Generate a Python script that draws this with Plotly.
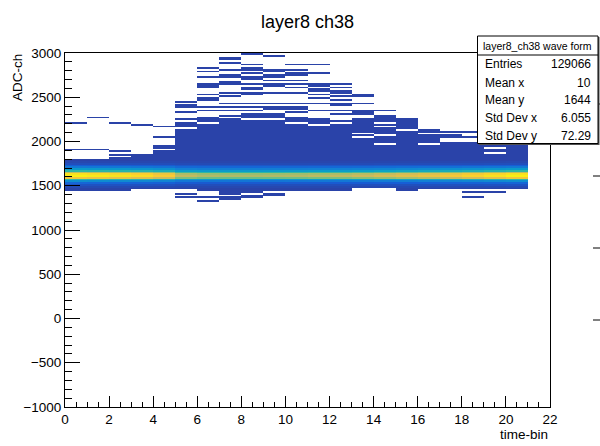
import numpy as np
import plotly.graph_objects as go

# ---------------- data ----------------
time_bins = list(range(21))                 # time-bin columns (0..20), bin width 1
adc_lo, adc_hi, adc_step = -1000, 3000, 20  # ADC binning

# relative shape of the dense core band (bin centre ADC -> fraction of column peak)
core_adc = [1770, 1750, 1730, 1710, 1690, 1670, 1650, 1630, 1610, 1590, 1570, 1550, 1530, 1510, 1490]
core_frac = [0.02, 0.05, 0.12, 0.22, 0.35, 0.5, 0.72, 0.95, 1.0, 0.85, 0.5, 0.3, 0.15, 0.07, 0.03]

# peak counts of each column
peak_counts = [2100, 2060, 2020, 1960, 1850, 1520, 1460, 1450, 1450, 1460, 1470,
               1500, 1520, 1560, 1620, 1680, 1740, 1820, 1900, 2000, 2100]

# extent of the continuous low-count region per column (top, bottom ADC)
dense_top = [1790, 1780, 1780, 1800, 1950, 2180, 2260, 2280, 2300, 2300, 2260,
             2245, 2225, 2240, 2240, 2200, 2055, 1985, 1990, 1905, 1940]
dense_bottom = [1445, 1445, 1450, 1460, 1460, 1460, 1440, 1430, 1430, 1440, 1465,
                1460, 1445, 1490, 1480, 1445, 1470, 1465, 1465, 1460, 1465]
dense_level = [4, 4, 4, 4, 4, 4, 4, 4, 4, 4, 4, 4, 4, 4, 4, 4, 4, 4, 4, 4, 4]

# empty rows inside the dense region
gaps = [
    [], [], [], [], [1900], [2150], [2200], [2270], [2255], [2240],
    [2200], [2190], [2205], [2095, 2055], [2215, 2165, 2075, 1970], [2130],
    [1960], [], [], [1860], [],
]

# isolated single-count rows
sparse = [
    [2200, 1910],
    [2260, 1905],
    [2210, 1885, 1845, 1810],
    [2185, 1855, 1825],
    [2165, 2055],
    [2440, 2400, 2380, 2330, 2245, 2205, 1415, 1375],
    [2835, 2790, 2720, 2645, 2625, 2600, 2525, 2485, 2465, 2395, 2340, 1375, 1335],
    [2940, 2920, 2885, 2805, 2745, 2725, 2665, 2645, 2545, 2510,
     2420, 2395, 2345, 1415, 1375, 1340],
    [2985, 2865, 2825, 2810, 2760, 2720, 2700, 2650, 2610, 2580,
     2540, 2520, 2430, 2390, 2340, 1380, 1360],
    [2960, 2810, 2790, 2750, 2730, 2695, 2650, 2630, 2545, 2430,
     2390, 2370, 1400, 1380],
    [2870, 2810, 2770, 2750, 2695, 2655, 2615, 2600, 2545, 2430,
     2390, 2375, 2335, 1440],
    [2870, 2775, 2640, 2620, 2580, 2560, 2520, 2490, 2430, 2350, 1450],
    [2655, 2610, 2565, 2545, 2505, 2460, 2420, 2400, 2345, 2300, 1440],
    [2535, 2515, 2430, 2350, 2330, 2300],
    [2345, 2290, 2265],
    [2245, 2225],
    [2130, 2110, 2075],
    [2110, 2060, 2040],
    [2110, 2040, 1420, 1375],
    [1940, 1430],
    [1960],
]

x_tick_vals = list(range(0, 23, 2))
y_tick_vals = list(range(-1000, 3001, 500))

stats_labels = ["Entries", "Mean x", "Mean y", "Std Dev x", "Std Dev y"]
stats_values = ["129066", "10", "1644", "6.055", "72.29"]

# ---------------- build histogram matrix ----------------
y_edges = list(range(adc_lo, adc_hi + 1, adc_step))
x_edges = list(range(0, len(time_bins) + 1))
ny = len(y_edges) - 1
z = np.full((ny, len(time_bins)), np.nan)


def idx(adc):
    return int((adc - adc_lo) // adc_step)


for k in range(len(time_bins)):
    for i in range(idx(dense_bottom[k]), idx(dense_top[k]) + 1):
        z[i, k] = dense_level[k]
    for g in gaps[k]:
        z[idx(g), k] = np.nan
    for s in sparse[k]:
        if np.isnan(z[idx(s), k]):
            z[idx(s), k] = 1
    for a, f in zip(core_adc, core_frac):
        v = peak_counts[k] * f
        i = idx(a)
        z[i, k] = v if np.isnan(z[i, k]) else max(z[i, k], v)

zlist = [[None if np.isnan(v) else float(v) for v in row] for row in z]

colorscale = [
    [0.0, "rgb(42,67,168)"],
    [0.12, "rgb(22,94,214)"],
    [0.25, "rgb(18,128,212)"],
    [0.375, "rgb(8,162,200)"],
    [0.5, "rgb(46,182,164)"],
    [0.625, "rgb(135,190,119)"],
    [0.75, "rgb(209,187,89)"],
    [0.875, "rgb(250,202,50)"],
    [1.0, "rgb(249,240,20)"],
]

fig = go.Figure(go.Heatmap(
    x=x_edges, y=y_edges, z=zlist,
    colorscale=colorscale, zmin=0, zmax=max(peak_counts),
    showscale=False, hoverinfo="skip", zsmooth=False,
))

W, H = 600, 446
L, R, T, B = 65, 550, 53, 407
FONT = "Liberation Sans, Arial, Helvetica, sans-serif"


def px(x):
    return (x - L) / (R - L)


def py(y):
    return (B - y) / (B - T)


fig.update_layout(
    width=W, height=H,
    margin=dict(l=L, r=W - R, t=T, b=H - B, pad=0),
    paper_bgcolor="white", plot_bgcolor="white",
    font=dict(family=FONT, color="black"),
    showlegend=False,
)
fig.update_xaxes(
    range=[0, 22], tickvals=x_tick_vals, ticks="inside", ticklen=11, tickcolor="black",
    tickwidth=1, showline=True, linecolor="black", linewidth=1, mirror=True,
    showgrid=False, zeroline=False, tickfont=dict(size=13.5, family=FONT),
    minor=dict(dtick=0.5, tick0=0, ticks="inside", ticklen=5.5, tickcolor="black", showgrid=False),
)
fig.update_yaxes(
    range=[-1000, 3000], tickvals=y_tick_vals, ticks="inside", ticklen=14.5, tickcolor="black",
    tickwidth=1, showline=True, linecolor="black", linewidth=1, mirror=True,
    showgrid=False, zeroline=False, tickfont=dict(size=13.5, family=FONT),
    minor=dict(dtick=100, tick0=0, ticks="inside", ticklen=7, tickcolor="black", showgrid=False),
)

shapes = []
# stray ticks at the far right
for yy in [104, 176, 248, 320]:
    shapes.append(dict(type="line", xref="paper", yref="paper", x0=px(593), x1=px(600),
                       y0=py(yy), y1=py(yy), line=dict(color="black", width=1)))
# stats box shadow + box
shapes.append(dict(type="rect", xref="paper", yref="paper", x0=px(479), x1=px(599.5),
                   y0=py(145), y1=py(37), fillcolor="rgb(80,80,80)", line=dict(width=0)))
shapes.append(dict(type="rect", xref="paper", yref="paper", x0=px(477.5), x1=px(598),
                   y0=py(143.5), y1=py(36), fillcolor="white", line=dict(color="black", width=1)))
shapes.append(dict(type="line", xref="paper", yref="paper", x0=px(477.5), x1=px(598),
                   y0=py(55), y1=py(55), line=dict(color="black", width=1)))
fig.update_layout(shapes=shapes)

ann = []
ann.append(dict(text="layer8 ch38", xref="paper", yref="paper", x=px(307.5), y=py(22),
                xanchor="center", yanchor="middle", showarrow=False, font=dict(size=18, family=FONT)))
ann.append(dict(text="ADC-ch", xref="paper", yref="paper", x=px(18), y=py(78), textangle=-90,
                xanchor="center", yanchor="middle", showarrow=False, font=dict(size=13.5, family=FONT)))
ann.append(dict(text="time-bin", xref="paper", yref="paper", x=px(550), y=py(434),
                xanchor="right", yanchor="middle", showarrow=False, font=dict(size=13.5, family=FONT)))
ann.append(dict(text="layer8_ch38 wave form", xref="paper", yref="paper", x=px(537.5), y=py(46),
                xanchor="center", yanchor="middle", showarrow=False, font=dict(size=10.5, family=FONT)))
row_y = [64.5, 82.5, 100, 118, 135.5]
for lab, val, yy in zip(stats_labels, stats_values, row_y):
    ann.append(dict(text=lab, xref="paper", yref="paper", x=px(483), y=py(yy),
                    xanchor="left", yanchor="middle", showarrow=False, font=dict(size=12, family=FONT)))
    ann.append(dict(text=val, xref="paper", yref="paper", x=px(593), y=py(yy),
                    xanchor="right", yanchor="middle", showarrow=False, font=dict(size=12, family=FONT)))
fig.update_layout(annotations=ann)

fig.write_html("out.html")
